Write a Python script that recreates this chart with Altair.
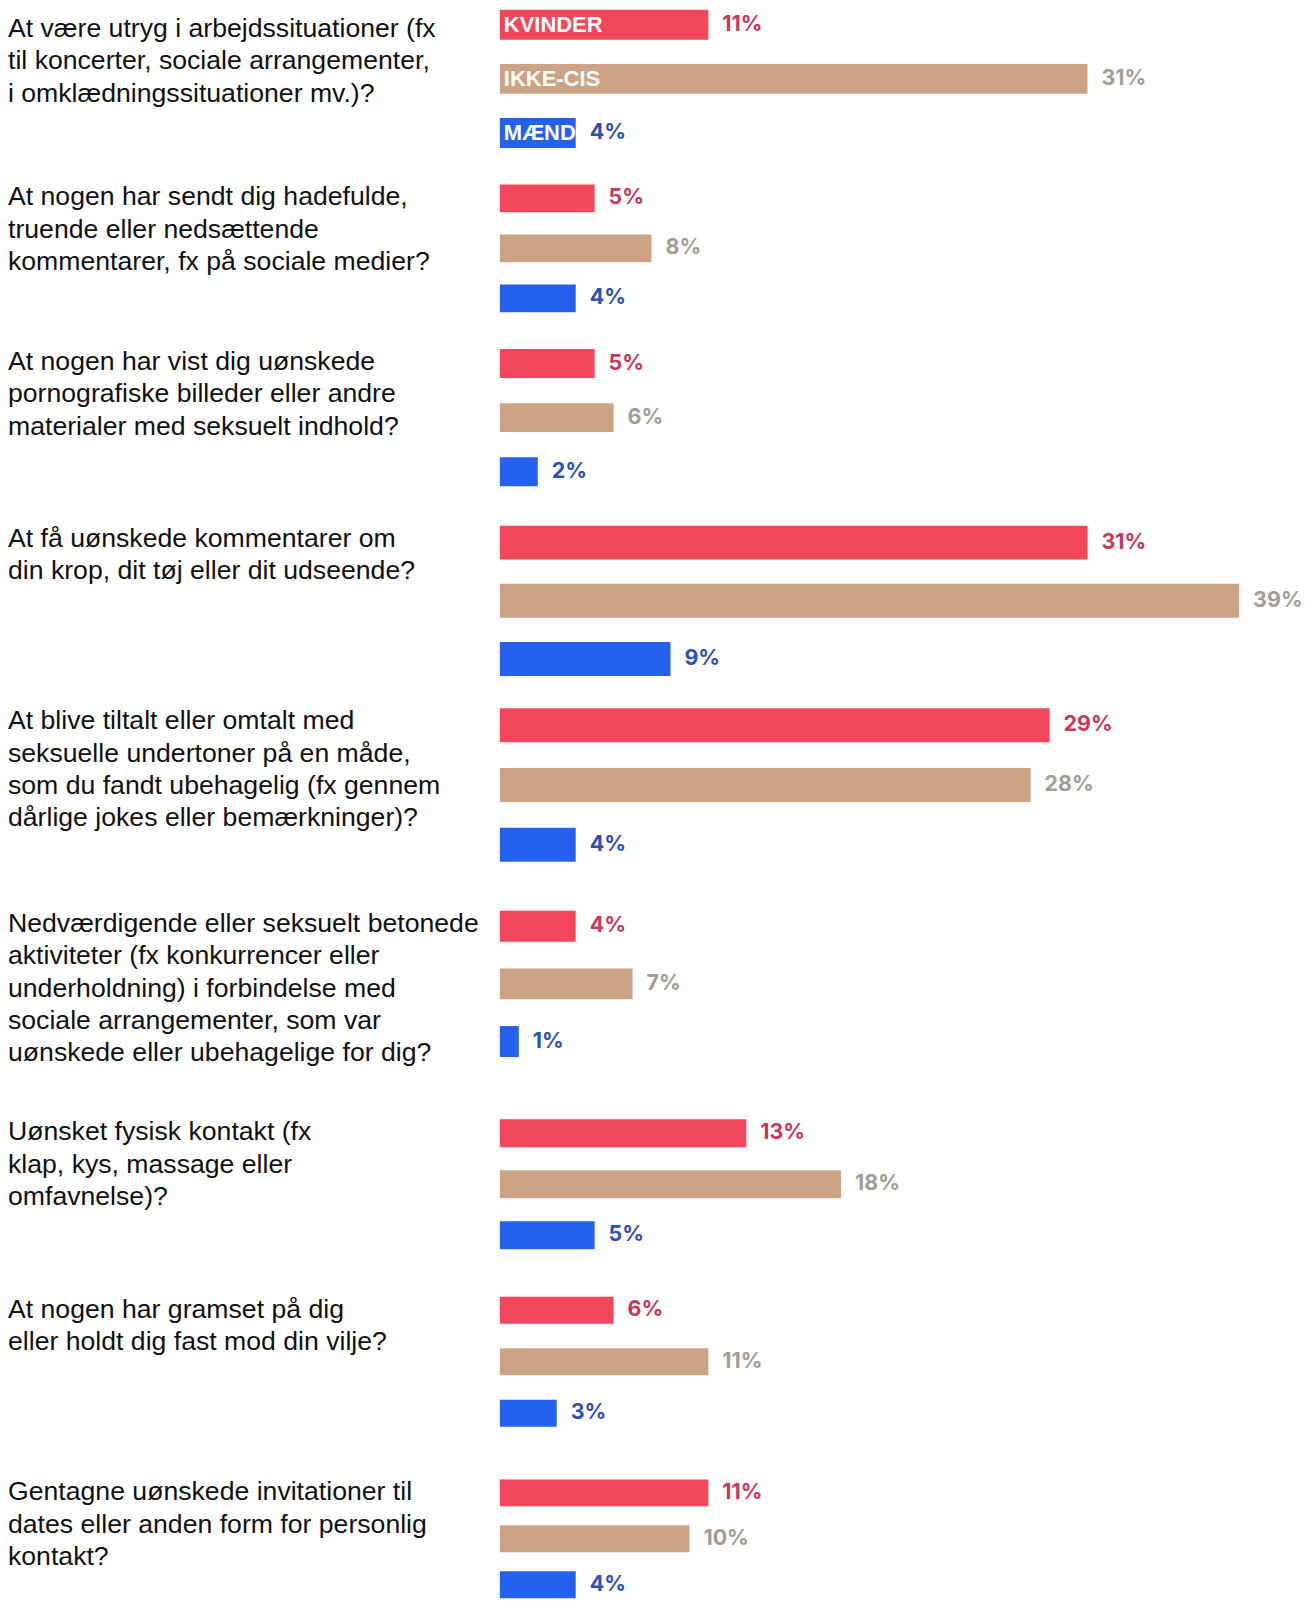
import altair as alt
import pandas as pd

# ---- data ----
questions = [
    "At være utryg i arbejdssituationer (fx\ntil koncerter, sociale arrangementer,\ni omklædningssituationer mv.)?",
    "At nogen har sendt dig hadefulde,\ntruende eller nedsættende\nkommentarer, fx på sociale medier?",
    "At nogen har vist dig uønskede\npornografiske billeder eller andre\nmaterialer med seksuelt indhold?",
    "At få uønskede kommentarer om\ndin krop, dit tøj eller dit udseende?",
    "At blive tiltalt eller omtalt med\nseksuelle undertoner på en måde,\nsom du fandt ubehagelig (fx gennem\ndårlige jokes eller bemærkninger)?",
    "Nedværdigende eller seksuelt betonede\naktiviteter (fx konkurrencer eller\nunderholdning) i forbindelse med\nsociale arrangementer, som var\nuønskede eller ubehagelige for dig?",
    "Uønsket fysisk kontakt (fx\nklap, kys, massage eller\nomfavnelse)?",
    "At nogen har gramset på dig\neller holdt dig fast mod din vilje?",
    "Gentagne uønskede invitationer til\ndates eller anden form for personlig\nkontakt?",
]
groups = ["KVINDER", "IKKE-CIS", "MÆND"]
kvinder = [11, 5, 5, 31, 29, 4, 13, 6, 11]
ikke_cis = [31, 8, 6, 39, 28, 7, 18, 11, 10]
maend = [4, 4, 2, 9, 4, 1, 5, 3, 4]

# ---- styles / layout ----
bar_colors = ["#F2475A", "#CCA385", "#2462EE"]
label_colors = ["#C8375A", "#A39C95", "#2D4FB8"]
panel_h = [175, 165, 177, 183, 203, 209, 178, 183, 119]
row_step = [54.2, 50.1, 54.2, 58.3, 59.9, 57.8, 51.1, 51.6, 46.0]
bar_h = [30, 28, 29, 34, 34, 31, 28, 27, 27]
text_dy = [6, 0, 0, 0, 0, 0, 0, 0, 0]
plot_w = 760
text_x = -493

rows = []
for i in range(len(questions)):
    for g, vals in zip(groups, [kvinder, ikke_cis, maend]):
        rows.append({"qi": i, "group": g, "pct": vals[i]})
df = pd.DataFrame(rows)

panels = []
for k in range(len(questions)):
    s = row_step[k]
    pi = 1 - bar_h[k] / s
    po = max(0.0, (panel_h[k] / s - 3 + pi) / 2)
    yenc = alt.Y("group:N", axis=None,
                 scale=alt.Scale(domain=groups, paddingInner=pi, paddingOuter=po, align=0))
    xenc = alt.X("pct:Q", axis=None, scale=alt.Scale(domain=[0, 40], nice=False, zero=True))
    base = alt.Chart(df[df.qi == k])
    bars = base.mark_bar().encode(
        x=xenc, y=yenc,
        color=alt.Color("group:N", scale=alt.Scale(domain=groups, range=bar_colors), legend=None),
    )
    vals = base.transform_calculate(lbl="datum.pct + '%'").mark_text(
        align="left", baseline="middle", dx=14, font="Inter", fontWeight="bold", fontSize=21.5
    ).encode(
        x=xenc, y=yenc, text="lbl:N",
        fill=alt.Fill("group:N", scale=alt.Scale(domain=groups, range=label_colors), legend=None),
    )
    qtext = alt.Chart(pd.DataFrame({"q": [questions[k]]})).mark_text(
        align="left", baseline="top", lineBreak="\n", font="Liberation Sans",
        fontSize=26.7, lineHeight=32.5, color="#111111"
    ).encode(x=alt.value(text_x), y=alt.value(text_dy[k]), text="q:N")
    layers = [bars, vals, qtext]
    if k == 0:
        inside = base.mark_text(
            align="left", baseline="middle", dx=4, font="Liberation Sans",
            fontWeight="bold", fontSize=22, color="white"
        ).encode(x=alt.value(0), y=yenc, text="group:N")
        layers.append(inside)
    panels.append(alt.layer(*layers).properties(width=plot_w, height=panel_h[k]))

chart = alt.vconcat(*panels, spacing=0).resolve_scale(
    x="independent", y="independent"
).properties(padding=0).configure_view(stroke=None)

chart.save("out.html", embed_options={"renderer": "svg", "actions": False})
